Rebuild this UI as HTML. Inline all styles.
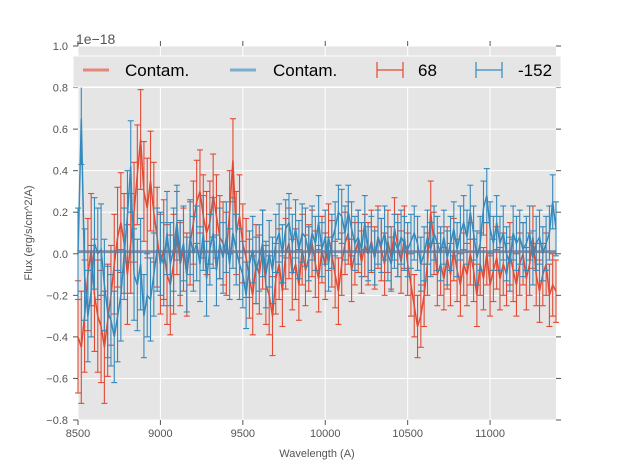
<!DOCTYPE html>
<html><head><meta charset="utf-8"><style>
body{margin:0;background:#fff;}
svg{display:block;font-family:"Liberation Sans",sans-serif;}
</style></head><body>
<svg id="chart" width="617" height="467" viewBox="0 0 617 467" xmlns="http://www.w3.org/2000/svg">
<rect x="78" y="46" width="478" height="374" fill="#E5E5E5"/>
<g id="grid"></g>
<g id="contam"></g>
<g id="series"></g>
<g id="axes"></g>
<text x="76" y="44" font-size="14" fill="#555">1e−18</text>
<text x="317" y="457" font-size="11" fill="#555" text-anchor="middle">Wavelength (A)</text>
<text transform="translate(32,233) rotate(-90)" font-size="11" fill="#555" text-anchor="middle">Flux (erg/s/cm^2/A)</text>
<g>
<rect x="73" y="56" width="488" height="31" fill="#E5E5E5" stroke="#fff" stroke-width="1"/>
<line x1="83" y1="70" x2="109" y2="70" stroke="#E24A33" stroke-opacity="0.6" stroke-width="3"/>
<text x="125" y="76" font-size="17" fill="#000">Contam.</text>
<line x1="230" y1="70" x2="256" y2="70" stroke="#348ABD" stroke-opacity="0.6" stroke-width="3"/>
<text x="273" y="76" font-size="17" fill="#000">Contam.</text>
<g stroke="#E24A33" stroke-width="1.2"><line x1="377" y1="70" x2="403" y2="70"/><line x1="377" y1="62" x2="377" y2="78"/><line x1="403" y1="62" x2="403" y2="78"/></g>
<text x="418" y="76" font-size="17" fill="#000">68</text>
<g stroke="#348ABD" stroke-width="1.2"><line x1="476" y1="70" x2="502" y2="70"/><line x1="476" y1="62" x2="476" y2="78"/><line x1="502" y1="62" x2="502" y2="78"/></g>
<text x="518" y="76" font-size="17" fill="#000">-152</text>
</g>
</svg>
<script>
const xTicks=[8500,9000,9500,10000,10500,11000];
const yTicks=[-0.8,-0.6,-0.4,-0.2,0.0,0.2,0.4,0.6,0.8,1.0];
const yTickLabels=["−0.8","−0.6","−0.4","−0.2","0.0","0.2","0.4","0.6","0.8","1.0"];
const wlStart=8500, wlStep=20;
const redFlux=[-0.40,-0.45,-0.30,-0.10,0.02,-0.20,-0.30,-0.35,-0.45,-0.32,
-0.20,-0.05,0.08,0.15,0.05,-0.10,0.05,0.20,0.38,0.55,
0.30,0.22,0.35,0.20,0.08,-0.05,0.02,-0.10,-0.15,-0.05,
0.10,-0.05,0.02,-0.10,0.05,0.15,0.25,0.30,0.18,0.10,
0.15,0.28,0.18,0.08,0.05,0.00,0.20,0.45,0.10,0.18,
0.05,-0.02,-0.12,-0.20,-0.05,-0.10,0.02,-0.15,-0.20,-0.30,
-0.12,-0.05,-0.18,0.00,0.05,-0.10,-0.05,-0.15,0.02,-0.08,
-0.02,0.05,-0.05,-0.12,0.02,-0.06,0.08,0.00,-0.10,-0.18,
-0.05,0.05,0.10,-0.08,0.00,0.06,-0.04,0.04,0.00,0.06,
-0.02,0.08,0.02,-0.05,0.06,-0.02,0.12,0.04,-0.04,0.08,
-0.05,-0.15,-0.25,-0.35,-0.30,-0.20,-0.05,0.20,0.05,-0.10,
-0.05,-0.12,-0.02,-0.10,0.02,-0.08,-0.15,-0.05,-0.10,0.00,
-0.08,-0.20,-0.05,-0.12,0.00,-0.15,-0.08,-0.02,-0.12,-0.05,
-0.10,0.00,-0.08,-0.15,-0.05,0.00,-0.12,-0.05,0.08,-0.10,
-0.18,-0.10,-0.05,-0.20,-0.15,-0.18];
const blueFlux=[0.00,0.65,-0.10,-0.30,-0.18,0.05,0.00,0.02,-0.15,-0.28,
-0.32,-0.40,-0.30,-0.20,0.00,0.18,0.42,-0.10,-0.15,-0.05,
-0.30,-0.20,-0.22,-0.10,0.02,0.00,-0.05,0.10,-0.05,0.02,
0.15,-0.02,0.05,-0.10,0.08,0.00,0.05,-0.05,0.10,-0.12,
0.02,0.10,-0.08,0.05,-0.02,0.08,-0.05,0.10,0.02,-0.05,
-0.10,-0.20,-0.05,0.02,-0.08,-0.02,0.05,-0.10,0.00,-0.08,
0.05,0.10,0.00,0.12,0.15,0.05,0.12,0.02,0.10,0.08,
0.00,0.10,0.05,0.15,0.02,0.08,-0.05,0.06,0.12,0.20,
0.18,0.10,0.20,0.12,0.05,0.08,0.02,0.15,0.00,0.05,
-0.02,0.08,0.04,0.10,0.00,-0.05,0.06,0.02,0.08,0.05,
0.02,0.06,0.10,0.05,-0.05,0.00,0.08,0.02,0.10,0.05,
0.00,0.08,-0.02,0.05,0.12,0.02,0.10,0.15,0.08,0.20,
0.10,-0.02,0.05,0.22,0.28,0.12,0.05,0.15,0.05,0.10,
0.00,-0.05,0.10,0.05,0.08,0.02,0.05,0.10,-0.02,0.05,
0.08,0.00,0.05,0.10,0.25,0.12];
const redErrBySegment=[0.27,0.24,0.24,0.2,0.2,0.19,0.17,0.16,0.15,0.15,0.15,0.15,0.15,0.15,0.15];
const blueErrBySegment=[0.22,0.22,0.2,0.18,0.17,0.16,0.14,0.13,0.13,0.13,0.13,0.13,0.13,0.13,0.13];
const contamRed=0.01, contamBlue=0.01;

const X0=78,X1=556,Y0=46,Y1=420,xmin=8500,xmax=11400,ymin=-0.8,ymax=1.0;
const sx=v=>X0+(v-xmin)/(xmax-xmin)*(X1-X0);
const sy=v=>Y1-(v-ymin)/(ymax-ymin)*(Y1-Y0);
const NS="http://www.w3.org/2000/svg";
function mk(tag,attrs,parent){const e=document.createElementNS(NS,tag);for(const k in attrs)e.setAttribute(k,attrs[k]);parent.appendChild(e);return e;}
const grid=document.getElementById('grid'),axes=document.getElementById('axes');
xTicks.forEach(t=>{
 const gl=mk('line',{x1:sx(t),x2:sx(t),y1:Y0,y2:Y1,stroke:'#fff','stroke-width':1},grid);
 
 mk('line',{x1:sx(t),x2:sx(t),y1:Y1,y2:Y1+5,stroke:'#555'},axes);
 mk('line',{x1:sx(t),x2:sx(t),y1:Y0,y2:Y0-5,stroke:'#555'},axes);
 const tx=mk('text',{x:sx(t),y:Y1+17,'font-size':11,fill:'#555','text-anchor':'middle'},axes);tx.textContent=t;
 
});
yTicks.forEach((t,i)=>{
 const gl=mk('line',{x1:X0,x2:X1,y1:sy(t),y2:sy(t),stroke:'#fff','stroke-width':1},grid);
 
 mk('line',{x1:X0-5,x2:X0,y1:sy(t),y2:sy(t),stroke:'#555'},axes);
 mk('line',{x1:X1,x2:X1+5,y1:sy(t),y2:sy(t),stroke:'#555'},axes);
 const tx=mk('text',{x:X0-10,y:sy(t)+4,'font-size':11,fill:'#555','text-anchor':'end'},axes);tx.textContent=yTickLabels[i];
 
});
const ser=document.getElementById('series');
function drawSeries(vals,errs,color,name){
 const g=mk('g',{stroke:color,'stroke-width':1.1,fill:'none'},ser);
 
 let d='';
 vals.forEach((v,i)=>{
  const x=sx(wlStart+i*wlStep);const e=errs[Math.floor(i/10)];
  const a=sy(v+e),b=sy(v-e);
  mk('line',{x1:x,x2:x,y1:a,y2:b},g);
  mk('line',{x1:x-3,x2:x+3,y1:a,y2:a},g);
  mk('line',{x1:x-3,x2:x+3,y1:b,y2:b},g);
  d+=(i?'L':'M')+x.toFixed(1)+' '+sy(v).toFixed(1);
 });
 const p=mk('path',{d:d,'stroke-width':1.5},g);
 
}
drawSeries(redFlux,redErrBySegment,'#E24A33','series-68');
drawSeries(blueFlux,blueErrBySegment,'#348ABD','series-152');
const ct=document.getElementById('contam');
const c1=mk('line',{x1:X0,x2:X1,y1:sy(contamRed),y2:sy(contamRed),stroke:'#E24A33','stroke-opacity':0.5,'stroke-width':3},ser);

const c2=mk('line',{x1:X0,x2:X1,y1:sy(contamBlue),y2:sy(contamBlue),stroke:'#348ABD','stroke-opacity':0.6,'stroke-width':3},ser);

</script>
</body></html>
